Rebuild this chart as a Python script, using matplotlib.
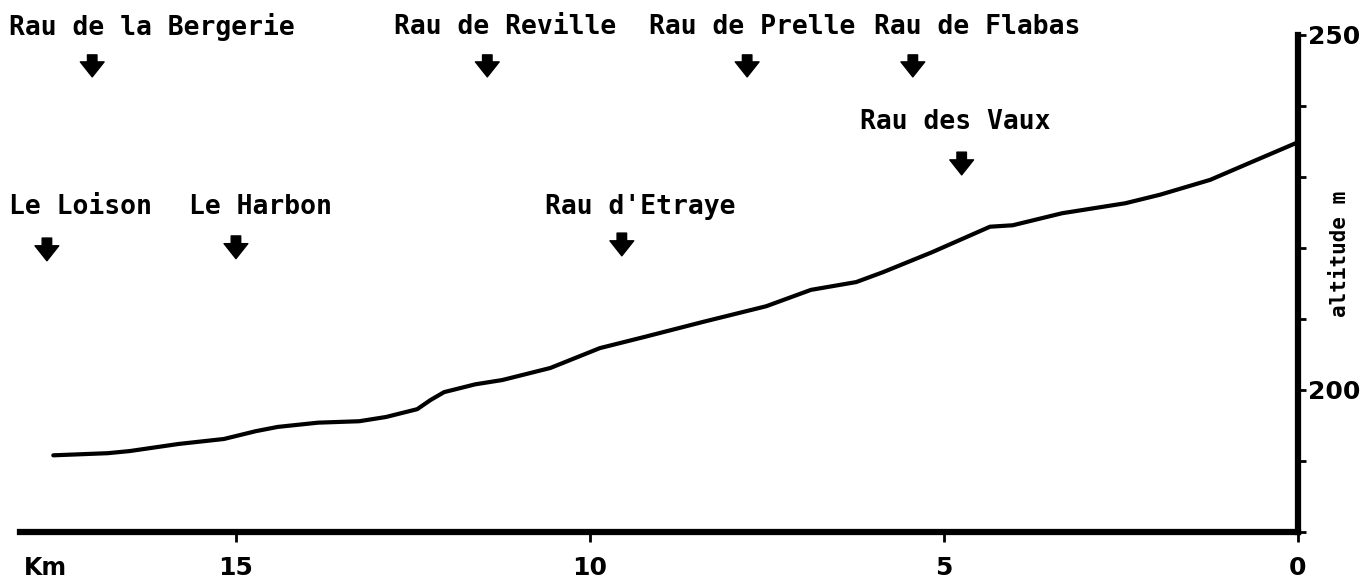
import matplotlib
matplotlib.use("Agg")
import matplotlib.pyplot as plt

# distance from mouth (km) and altitude (m) of the valley profile
km = [17.58, 16.81, 16.50, 15.81, 15.17, 14.72, 14.41, 13.84, 13.26, 12.88,
      12.44, 12.25, 12.06, 11.62, 11.24, 10.56, 9.86, 9.22, 8.40, 7.51, 6.88,
      6.24, 5.86, 5.17, 4.35, 4.03, 3.33, 2.44, 1.95, 1.24, 0.68, 0.0]
alt = [190.8, 191.1, 191.4, 192.4, 193.1, 194.2, 194.8, 195.4, 195.6, 196.2,
       197.3, 198.6, 199.7, 200.8, 201.4, 203.1, 205.9, 207.5, 209.6, 211.8, 214.1,
       215.2, 216.6, 219.4, 223.0, 223.2, 224.9, 226.3, 227.5, 229.6, 232.0, 234.9]

# tributaries: name, position (km), label row
trib_names = ["Rau de la Bergerie", "Rau de Reville", "Rau de Prelle", "Rau de Flabas",
              "Rau des Vaux", "Le Loison", "Le Harbon", "Rau d'Etraye"]
trib_km = [17.03, 11.45, 7.78, 5.44, 4.75, 17.67, 15.0, 9.55]
label_x = [16.19, 11.20, 7.71, 4.53, 4.84, 17.20, 14.66, 9.29]
label_y = [251.1, 251.1, 251.1, 251.1, 237.7, 225.8, 225.8, 225.8]
arrow_top = [247.2, 247.2, 247.2, 247.2, 233.5, 221.4, 221.7, 222.1]
arrow_tip = [244.1, 244.1, 244.1, 244.1, 230.3, 218.2, 218.5, 218.9]

xticks = [15, 10, 5, 0]
yticks = [180, 190, 200, 210, 220, 230, 240, 250]
ytick_labels = ["", "", "200", "", "", "", "", "250"]

mono = "DejaVu Sans Mono"

fig = plt.figure(figsize=(13.64, 5.81), dpi=100)
ax = fig.add_axes([20/1364, 1-532/581, (1298-20)/1364, (532-35)/581])
ax.set_xlim(18.05, 0)
ax.set_ylim(180, 250)

ax.plot(km, alt, color="black", lw=3.0, solid_capstyle="round", solid_joinstyle="round")

for s in ["left", "top"]:
    ax.spines[s].set_visible(False)
for s in ["bottom", "right"]:
    ax.spines[s].set_linewidth(4.5)
    ax.spines[s].set_color("black")

ax.yaxis.tick_right()
ax.set_yticks(yticks)
ax.set_yticklabels(ytick_labels, fontsize=18, fontweight="semibold")
ax.tick_params(axis="y", direction="out", length=6, width=2, pad=1)
ax.set_xticks(xticks)
ax.set_xticklabels([str(v) for v in xticks], fontsize=18, fontweight="semibold")
ax.tick_params(axis="x", direction="out", length=7, width=2, pad=10)

ax.annotate("Km", xy=(18.0, 180), xytext=(0, -17), textcoords="offset points",
            fontsize=17, fontweight="semibold", ha="left", va="top", annotation_clip=False)

ax.text(1.0 + 42/1364/((1298-20)/1364), 0.56, "altitude m", rotation=90, fontsize=15,
        fontweight="bold", family=mono, ha="center", va="center", transform=ax.transAxes)

for name, xk, lx, ly, ya, yt in zip(trib_names, trib_km, label_x, label_y, arrow_top, arrow_tip):
    ax.text(lx, ly, name, fontsize=19, fontweight="bold", family=mono,
            ha="center", va="center", clip_on=False)
    ax.annotate("", xy=(xk, yt), xytext=(xk, ya), annotation_clip=False,
                arrowprops=dict(arrowstyle="simple,head_length=0.6,head_width=0.95,tail_width=0.38",
                                fc="black", ec="black", mutation_scale=18,
                                shrinkA=0, shrinkB=0))

fig.savefig("out.png", dpi=100)
